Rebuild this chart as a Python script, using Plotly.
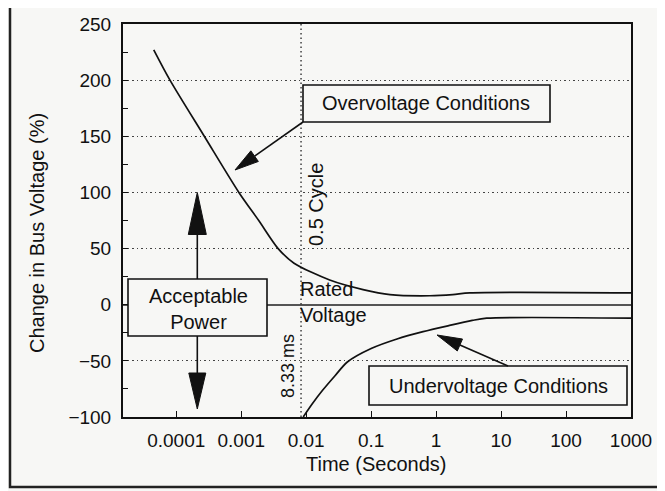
import math
import plotly.graph_objects as go

# ---------------- data ----------------
over_time = [4.5e-5, 8.0e-5, 2.7e-4, 9.2e-4, 1.86e-3, 3.7e-3, 6.5e-3, 0.023, 0.075, 0.195, 0.8, 1.8, 3.3, 1000]
over_value = [227, 200, 150, 100, 75, 50, 37, 22, 13.5, 9, 8, 9, 10.5, 10.5]

under_time = [0.009, 0.0125, 0.018, 0.028, 0.043, 0.1, 0.25, 0.63, 1.46, 3.6, 6.0, 1000]
under_value = [-100, -88, -76, -63, -51, -39, -30.5, -24, -19, -14, -12, -12]

half_cycle_time = [0.00833, 0.00833]
half_cycle_span = [-100, 250]

x_tick_values = [1e-4, 1e-3, 1e-2, 1e-1, 1, 10, 100, 1000]
x_tick_labels = ["0.0001", "0.001", "0.01", "0.1", "1", "10", "100", "1000"]

# ---------------- layout helpers (reference pixel -> paper) ----------------
OFF = 8                      # page body margin of the html page
FW, FH = 665 - OFF, 491 - OFF
L, R, T, B = 123, 631, 24, 417   # plot area in reference pixels
W, H = R - L, B - T
BG = "#f7f7f5"
INK = "#111111"
FONT = "Liberation Sans, Arial, Helvetica, sans-serif"
DOTS = "1.5px,3px"


def px(x):
    return (x - L) / W


def py(y):
    return (B - y) / H


shapes = []
annotations = []


def box(x0, y0, x1, y1):
    shapes.append(dict(type="rect", xref="paper", yref="paper",
                       x0=px(x0), x1=px(x1), y0=py(y1), y1=py(y0),
                       line=dict(color=INK, width=1.6), fillcolor=BG, layer="above"))


def arrow(x0, y0, x1, y1, hl, hw):
    dx, dy = x1 - x0, y1 - y0
    d = math.hypot(dx, dy)
    ux, uy = dx / d, dy / d
    bx, by = x1 - hl * ux, y1 - hl * uy
    nx, ny = -uy, ux
    shapes.append(dict(type="line", xref="paper", yref="paper",
                       x0=px(x0), y0=py(y0), x1=px(bx), y1=py(by),
                       line=dict(color=INK, width=1.6), layer="above"))
    p1 = (bx + nx * hw / 2, by + ny * hw / 2)
    p2 = (bx - nx * hw / 2, by - ny * hw / 2)
    path = "M {} {} L {} {} L {} {} Z".format(px(x1), py(y1), px(p1[0]), py(p1[1]), px(p2[0]), py(p2[1]))
    shapes.append(dict(type="path", xref="paper", yref="paper", path=path,
                       fillcolor=INK, line=dict(color=INK, width=1), layer="above"))


def text(x, y, s, size=20, angle=0, align="center", xanchor="center"):
    annotations.append(dict(xref="paper", yref="paper", x=px(x), y=py(y), text=s,
                            showarrow=False, textangle=angle, align=align,
                            xanchor=xanchor, yanchor="middle",
                            font=dict(family=FONT, size=size, color=INK)))


# ---------------- figure ----------------
fig = go.Figure()
fig.add_trace(go.Scatter(x=half_cycle_time, y=half_cycle_span, mode="lines",
                         line=dict(color="#333333", width=1.4, dash=DOTS),
                         hoverinfo="skip", showlegend=False))
fig.add_trace(go.Scatter(x=over_time, y=over_value, mode="lines",
                         line=dict(color=INK, width=1.7, shape="spline", smoothing=0.8),
                         showlegend=False))
fig.add_trace(go.Scatter(x=under_time, y=under_value, mode="lines",
                         line=dict(color=INK, width=1.7, shape="spline", smoothing=0.8),
                         showlegend=False))

# outer frame of the figure
shapes.append(dict(type="rect", xref="paper", yref="paper",
                   x0=px(10), x1=px(720), y0=py(487), y1=py(3),
                   line=dict(color="#222222", width=2.5), layer="below"))

# boxes
box(303, 85, 550, 122)
box(128, 279, 267, 336)
box(369, 366, 627, 405)

# arrows
arrow(303, 122, 235, 170, 24, 13)
arrow(197.3, 279, 197.3, 192.5, 42, 18)
arrow(197.3, 336, 197.3, 409, 36, 17)
arrow(508, 366, 437, 335, 25, 13)

# texts
text(426, 103.5, "Overvoltage Conditions")
text(198, 309, "Acceptable<br>Power")
text(498, 385.5, "Undervoltage Conditions")
text(298, 302, "Rated<br>Voltage", align="left", xanchor="left")
text(316, 205, "0.5 Cycle", angle=-90)
text(288, 366, "8.33 ms", size=18, angle=-90)
text(37, 233, "Change in Bus Voltage (%)", angle=-90)
text(376, 464, "Time (Seconds)")

fig.update_layout(
    width=FW, height=FH,
    margin=dict(l=L - OFF, r=FW - (R - OFF), t=T - OFF, b=FH - (B - OFF), autoexpand=False),
    paper_bgcolor=BG, plot_bgcolor=BG,
    font=dict(family=FONT, size=19, color=INK),
    shapes=shapes, annotations=annotations,
    showlegend=False,
)
fig.update_xaxes(type="log", range=[-4.82, 3.0],
                 tickvals=x_tick_values, ticktext=x_tick_labels,
                 ticks="inside", ticklen=6, tickwidth=1.3, tickcolor=INK,
                 showgrid=False, zeroline=False,
                 showline=True, linecolor=INK, linewidth=2, mirror=True,
                 ticklabelstandoff=5,
                 tickfont=dict(family=FONT, size=19, color=INK))
fig.update_yaxes(range=[-100, 250], tick0=0, dtick=50,
                 ticks="inside", ticklen=5, tickwidth=1.3, tickcolor=INK,
                 minor=dict(dtick=25, ticks="inside", ticklen=5, tickwidth=1.3,
                            tickcolor=INK, showgrid=False),
                 showgrid=True, gridcolor="#444444", griddash=DOTS, gridwidth=1.4,
                 zeroline=True, zerolinecolor="#555555", zerolinewidth=1.6,
                 showline=True, linecolor=INK, linewidth=2, mirror=True,
                 ticklabelstandoff=6,
                 tickfont=dict(family=FONT, size=19, color=INK))

fig.write_html("out.html")
